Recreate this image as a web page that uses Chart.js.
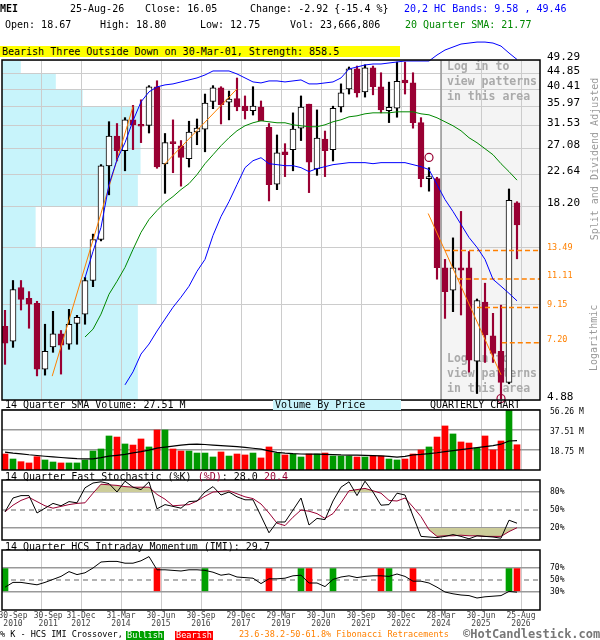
<!DOCTYPE html>
<html>
<head>
<meta charset="utf-8">
<script src="https://cdn.jsdelivr.net/npm/chart.js@4.4.1/dist/chart.umd.min.js"></script>
<style>
body{margin:0;width:600px;height:640px;position:relative;background:#fff;overflow:hidden;font-family:"DejaVu Sans Mono",monospace;font-size:10px;color:#000}
canvas{position:absolute;left:0}
.t{position:absolute;white-space:pre;line-height:12px;height:12px}
.f{font-size:8.5px;line-height:9px;height:9px}
</style>
</head>
<body>
<canvas id="price" width="600" height="410" style="top:0"></canvas>
<canvas id="vol" width="600" height="80" style="top:400px"></canvas>
<canvas id="stoch" width="600" height="80" style="top:470px"></canvas>
<canvas id="imi" width="600" height="100" style="top:540px"></canvas>

<div class="t" style="left:0;top:3px;font-weight:bold">MEI</div>
<div class="t" style="left:70px;top:3px">25-Aug-26</div>
<div class="t" style="left:145px;top:3px">Close: 16.05</div>
<div class="t" style="left:250px;top:3px">Change: -2.92 {-15.4 %}</div>
<div class="t" style="left:404px;top:3px;color:#0000ff">20,2 HC Bands: 9.58 , 49.46</div>
<div class="t" style="left:5px;top:19px">Open: 18.67</div>
<div class="t" style="left:100px;top:19px">High: 18.80</div>
<div class="t" style="left:200px;top:19px">Low: 12.75</div>
<div class="t" style="left:290px;top:19px">Vol: 23,666,806</div>
<div class="t" style="left:405px;top:19px;color:#008800">20 Quarter SMA: 21.77</div>
<div class="t" style="left:0;top:46px;width:398px;height:11px;line-height:11px;background:#ffff00;padding-left:2px">Bearish Three Outside Down on 30-Mar-01, Strength: 858.5</div>

<div class="t" style="left:513px;top:153px;width:163px;text-align:center;color:#999;transform:rotate(-90deg);transform-origin:81.5px 6px">Split and Dividend Adjusted</div>
<div class="t" style="left:561px;top:332px;width:66px;text-align:center;color:#999;transform:rotate(-90deg);transform-origin:33px 6px">Logarithmic</div>

<div class="t" style="left:5px;top:399px">14 Quarter SMA Volume: 27.51 M</div>
<div class="t" style="left:273px;top:400px;width:126px;height:10px;line-height:10px;background:#c8f4fb;padding-left:2px">Volume By Price</div>
<div class="t" style="left:430px;top:399px">QUARTERLY CHART</div>
<div class="t" style="left:5px;top:471px">14 Quarter Fast Stochastic (%K) <span style="color:#990033">(%D)</span>: 28.0 <span style="color:#990033">20.4</span></div>
<div class="t" style="left:5px;top:541px">14 Quarter HCS Intraday Momentum (IMI): 29.7</div>

<div class="t f" style="left:0;top:630px">% K - HCS IMI Crossover,</div>
<div class="t f" style="left:126px;top:631px;width:38px;background:#00a000;color:#fff;text-align:center">Bullish</div>
<div class="t f" style="left:175px;top:631px;width:38px;background:#ff0000;color:#fff;text-align:center">Bearish</div>
<div class="t f" style="left:239px;top:630px;color:#ff8000">23.6-38.2-50-61.8% Fibonacci Retracements</div>
<div class="t" style="left:463px;top:628px;font-size:12px;font-weight:bold;color:#777">©HotCandlestick.com</div>

<script>
// quarterly candles, 30-Sep-2010 .. 25-Aug-2026
const open  = [8.06,7.28,10.49,9.74,9.42,6.02,7.0,7.66,7.13,8.22,8.75,11.0,14.54,24.0,29.4,26.6,32.8,31.8,31.6,41.1,24.3,28.3,27.5,25.2,30.2,30.8,37.2,40.8,37.0,37.9,36.0,34.9,35.8,31.2,21.2,26.4,26.8,31.0,36.5,23.5,28.8,26.8,35.8,40.5,46.4,39.7,46.7,41.1,34.9,35.5,43.0,42.2,32.2,22.0,22.0,12.0,10.3,12.0,12.0,6.35,9.5,7.55,6.8,5.5,18.67];
const high  = [8.98,11.0,11.0,10.2,9.55,8.17,8.92,7.83,9.04,8.68,11.23,15.08,24.2,32.4,32.0,33.3,36.2,37.6,41.4,42.8,29.9,32.8,28.5,32.5,33.0,39.1,41.4,41.1,39.9,43.6,38.6,41.1,37.3,32.0,29.6,27.9,34.4,38.6,36.5,35.1,30.4,36.0,41.9,47.0,47.3,47.7,47.3,45.2,42.4,48.6,48.6,45.2,33.3,23.7,22.2,12.7,14.7,17.6,13.4,9.7,10.8,8.8,9.3,20.5,18.80];
const low   = [6.22,6.98,9.0,7.95,5.75,5.78,6.75,5.82,6.89,7.13,8.17,10.55,14.4,19.7,24.8,23.2,26.8,28.1,30.0,23.6,19.9,22.9,20.9,23.8,27.7,26.4,35.4,31.9,32.8,34.9,33.0,33.9,32.6,18.9,20.4,22.3,23.2,28.5,20.0,22.5,22.3,24.8,34.6,39.1,38.3,38.3,38.9,34.4,32.2,33.4,39.1,31.0,20.8,20.2,11.1,8.5,8.9,8.7,5.9,5.1,6.3,6.3,4.91,5.45,12.75];
const close = [7.18,10.35,9.68,9.36,6.02,6.80,7.66,7.08,8.17,8.56,11.0,14.54,24.0,29.4,26.6,32.8,31.7,31.4,41.1,23.8,28.1,27.9,25.4,30.2,31.0,36.8,40.8,36.4,37.8,35.8,34.9,36.0,32.6,21.1,26.2,25.9,30.8,35.8,24.6,29.0,26.6,35.5,39.4,46.4,39.4,46.7,41.1,35.1,35.7,42.6,42.2,32.2,22.0,22.3,12.0,10.2,12.0,11.8,6.4,9.6,7.6,6.7,5.5,18.97,16.05];

const bbUpper = [null,null,null,null,null,null,null,null,null,null,11.2,13.41,15.78,21.12,25.02,28.08,32.6,37.08,39.68,41.04,41.61,41.89,42.46,43.04,43.63,44.52,45.75,45.75,45.75,44.83,43.63,42.46,42.17,42.75,42.75,42.46,42.75,43.04,41.89,41.89,42.17,42.46,43.63,46.37,47.01,47.65,47.97,47.97,48.30,48.63,48.96,48.96,48.96,48.96,50.99,52.75,53.84,54.94,55.31,55.68,55.68,55.31,54.19,51.69,49.46];
const bbLower = [null,null,null,null,null,null,null,null,null,null,null,null,null,null,null,5.41,5.91,6.67,7.14,7.80,8.46,9.17,9.82,10.58,11.71,12.70,14.95,17.00,18.82,21.12,23.70,24.85,25.36,24.35,24.19,24.02,24.02,23.70,23.07,23.55,23.86,24.19,24.35,24.52,24.52,24.52,24.35,24.52,24.52,24.52,24.52,24.19,23.86,23.39,21.12,19.08,17.59,16.11,14.74,13.78,12.70,11.09,10.58,10.08,9.58];
const sma20 = [null,null,null,null,null,null,null,null,null,null,7.49,7.90,8.75,10.02,10.94,12.03,13.59,15.26,16.66,17.71,18.70,19.47,20.42,21.26,22.60,24.35,25.88,27.51,29.05,30.46,31.51,32.16,32.60,32.38,32.16,32.16,31.72,31.51,31.30,31.30,31.72,32.38,32.82,33.49,33.72,34.18,34.41,34.41,34.41,34.65,34.65,34.65,34.18,33.95,33.27,32.38,31.51,30.46,29.05,28.08,26.96,25.88,24.35,23.07,21.77];

// volume in millions
const volume = [15.0,10.3,7.8,6.6,12.5,9.4,7.5,6.6,6.6,6.6,9.4,17.8,19.7,31.9,30.9,24.4,23.4,29.1,21.6,37.5,37.5,19.7,17.8,17.8,15.9,15.9,12.2,16.9,13.1,15.0,14.1,15.9,11.3,21.6,15.9,14.1,15.0,12.2,15.0,15.0,15.9,13.1,13.1,13.1,12.2,12.2,13.1,13.1,10.3,9.4,10.3,15.0,18.8,21.6,30.9,41.3,33.8,26.3,25.3,20.6,31.9,18.8,27.2,58.0,23.67];
const volSma14 = [16.8,15.8,15.2,14.3,13.6,12.9,12.3,11.7,11.2,10.7,10.4,10.5,11.6,13.0,13.8,14.7,16.0,17.2,18.6,20.5,21.5,22.4,23.4,24.0,24.3,23.9,23.4,22.9,22.4,21.9,21.2,20.4,19.5,18.0,16.5,15.8,15.3,15.0,14.9,14.8,14.6,14.4,14.1,14.0,13.9,13.8,13.5,13.2,12.7,12.0,12.8,14.1,14.6,15.3,16.2,17.3,18.2,19.1,20.0,21.0,22.0,22.9,24.2,27.2,27.51];

const stochK = [47,70,74,74,45,53,61,57,64,62,87,95,97,94,80,98,88,84,97,52,59,56,53,64,65,80,89,75,80,72,67,67,40,12,30,30,50,70,25,36,34,65,88,97,74,98,80,58,59,78,75,40,6,5,4,6,9,6,2,7,6,5,3,33,28.0];
const stochD = [47,58,66,71,64,57,53,56,59,61,62,78,93,92,91,89,88,88,88,76,68,57,58,59,65,73,80,81,82,77,72,69,60,45,28,24,38,50,48,44,36,44,62,82,84,86,82,78,66,65,70,55,39,17,6,7,7,8,7,7,6,6,6,14,20.4];
const imi = [38,46,46,44,42,46,51,56,64,59,62,70,80,81,81,78,78,82,89,67,67,66,65,67,67,66,63,58,60,55,54,53,44,52,52,53,57,58,45,45,39,51,55,57,54,56,57,57,56,60,56,48,48,45,38,30,27,25,24,20,22,23,24,31,29.7];
const bullishAt = [0, 25, 37, 41, 48, 63];
const bearishAt = [19, 33, 38, 47, 51, 64];

// price axis ticks, volume-by-price bins between them
const priceTicks = [49.29, 44.85, 40.41, 35.97, 31.53, 27.08, 22.64, 18.20, 13.76, 9.32, 4.88];
const hiddenTicks = [13.76, 9.32];
const vbpVol = [14, 40, 60, 103, 103, 103, 101, 25, 115, 101];
const VBP_FULL = 400; // volume-by-price amount spanning the whole panel width

// fibonacci
const fibLevels = [13.49, 11.11, 9.15, 7.20];
const fibLevelFrom = [55.0, 56.6, 59.0, 62.1];
const fibTrendFrom = [[5.9, 5.74], [19.9, 24.2], [52.9, 17.35]];
const fibTrendTo = [[16.0, 35.9], [29.0, 40.5], [62.0, 5.79]];
const signalAt = [53, 62];
const signalPrice = [25.4, 4.93];

const dateLabels = ["30-Sep","30-Sep","31-Dec","31-Mar","30-Jun","30-Sep","29-Dec","29-Mar","30-Jun","30-Sep","30-Dec","28-Mar","30-Jun","25-Aug"];
const yearLabels = ["2010","2011","2012","2014","2015","2016","2017","2019","2020","2021","2022","2024","2025","2026"];
const labelAt = [1, 5.4, 9.5, 14.5, 19.5, 24.5, 29.5, 34.5, 39.5, 44.5, 49.5, 54.5, 59.5, 64.5];
const gridAt = [4.5, 9.5, 14.5, 19.5, 24.5, 29.5, 34.5, 39.5, 44.5, 49.5, 54.5, 59.5, 64.5];

const X_MIN = -0.375, X_MAX = 66.875;
const MONO = '"DejaVu Sans Mono", monospace';
const MAROON = '#990033', ORANGE = '#ff8000', KHAKI = '#cccc99', CLEAR = 'rgba(0,0,0,0)';

const idx = close.map((c, i) => i);
const pts = arr => arr.map((v, i) => ({x: i, y: v})).filter(p => p.y !== null);
const up = idx.map(i => close[i] > open[i]);

const deco = {
  id: 'deco',
  beforeDraw(chart, args, o) {
    const {ctx, chartArea: a, scales} = chart;
    ctx.save();
    if (o.vbp) {
      ctx.fillStyle = '#c8f4fb';
      vbpVol.forEach((v, k) => {
        const y0 = scales.y.getPixelForValue(priceTicks[k]);
        const y1 = scales.y.getPixelForValue(priceTicks[k + 1]);
        ctx.fillRect(a.left, y0, v / VBP_FULL * a.width, y1 - y0);
      });
    }
    if (o.loginFrom != null) {
      const x0 = scales.x.getPixelForValue(o.loginFrom);
      ctx.fillStyle = '#f4f4f4';
      ctx.fillRect(x0, a.top, a.right - x0, a.height);
    }
    ctx.restore();
  },
  beforeDatasetsDraw(chart, args, o) {
    const {ctx, chartArea: a, scales} = chart;
    ctx.save();
    if (o.loginFrom != null) {
      const x0 = scales.x.getPixelForValue(o.loginFrom);
      ctx.strokeStyle = '#999';
      ctx.lineWidth = 1.5;
      ctx.beginPath(); ctx.moveTo(x0, a.top); ctx.lineTo(x0, a.bottom); ctx.stroke();
      ctx.fillStyle = '#aaaaaa';
      ctx.font = 'bold 11.5px ' + MONO;
      ctx.textBaseline = 'middle';
      const lines = ['Log in to', 'view patterns', 'in this area'];
      lines.forEach((s, k) => {
        ctx.fillText(s, x0 + 6, a.top + 7 + 15 * k);
        ctx.fillText(s, x0 + 6, a.bottom - 41 + 15 * k);
      });
    }
    (o.dashed || []).forEach(v => {
      const y = scales.y.getPixelForValue(v);
      ctx.strokeStyle = '#999';
      ctx.lineWidth = 1.5;
      ctx.setLineDash([5, 4]);
      ctx.beginPath(); ctx.moveTo(a.left, y); ctx.lineTo(a.right, y); ctx.stroke();
    });
    ctx.restore();
  },
  afterDraw(chart) {
    const {ctx, chartArea: a} = chart;
    ctx.save();
    ctx.strokeStyle = '#000';
    ctx.lineWidth = 1.5;
    ctx.strokeRect(a.left, a.top, a.width, a.height);
    ctx.restore();
  }
};

function xGridAxis() {
  return {
    type: 'linear', min: X_MIN, max: X_MAX, offset: false,
    afterBuildTicks: s => { s.ticks = gridAt.map(v => ({value: v})); },
    afterFit: s => { s.height = 0; s.paddingLeft = 0; s.paddingRight = 0; },
    ticks: {display: false},
    grid: {color: '#cccccc', lineWidth: 1, drawTicks: false, offset: false},
    border: {display: false}
  };
}

function rightAxis(at, fmt, size, offset, extra) {
  return Object.assign({
    position: 'right',
    afterBuildTicks: s => { s.ticks = at.map(v => ({value: v})); },
    afterFit: s => { s.width = 60; s.paddingTop = 0; s.paddingBottom = 0; },
    ticks: {autoSkip: false, padding: 10, labelOffset: offset, color: '#000', font: {family: MONO, size: size}, callback: fmt},
    grid: {color: ctx => ctx.tick && ctx.tick.value === 50 ? CLEAR : '#999', lineWidth: 1.5, drawTicks: false},
    border: {display: false}
  }, extra);
}

const baseOpts = (padding, plugins, scales) => ({
  responsive: false, animation: false, events: [],
  layout: {autoPadding: false, padding: padding},
  plugins: Object.assign({legend: {display: false}, tooltip: {enabled: false}}, plugins),
  scales: scales
});

const lineDs = (data, color, extra) => Object.assign({
  type: 'line', data: data, borderColor: color, borderWidth: 1, pointRadius: 0,
  fill: false, tension: 0, xAxisID: 'x', yAxisID: 'y', order: 1
}, extra || {});

// price panel
new Chart(document.getElementById('price'), {
  type: 'bar',
  data: {
    datasets: [
      {type: 'line', data: signalAt.map((i, k) => ({x: i, y: signalPrice[k]})), showLine: false,
        pointRadius: 4, pointStyle: 'circle', pointBackgroundColor: CLEAR, pointBorderColor: MAROON,
        pointBorderWidth: 1.2, clip: false, xAxisID: 'x', yAxisID: 'y', order: 0},
      lineDs(pts(bbUpper), '#0000ff', {clip: {left: 0, top: false, right: 0, bottom: 0}}),
      lineDs(pts(bbLower), '#0000ff'),
      lineDs(pts(sma20), '#008800'),
      ...fibTrendFrom.map((f, k) => lineDs([{x: f[0], y: f[1]}, {x: fibTrendTo[k][0], y: fibTrendTo[k][1]}], ORANGE)),
      ...fibLevels.map((lv, k) => lineDs([{x: fibLevelFrom[k], y: lv}, {x: X_MAX, y: lv}], ORANGE, {borderDash: [5, 3], borderWidth: 1.5})),
      {type: 'bar', data: idx.map(i => ({x: i, y: [Math.min(open[i], close[i]), Math.max(open[i], close[i])]})),
        backgroundColor: idx.map(i => up[i] ? '#fff' : MAROON), borderColor: idx.map(i => up[i] ? '#000' : MAROON),
        borderWidth: 1, borderSkipped: false, barThickness: 6, grouped: false, xAxisID: 'x', yAxisID: 'y', order: 2},
      {type: 'bar', data: idx.map(i => ({x: i, y: [low[i], high[i]]})),
        backgroundColor: idx.map(i => up[i] ? '#000' : MAROON), barThickness: 1.5, grouped: false,
        xAxisID: 'x', yAxisID: 'y', order: 3}
    ]
  },
  options: baseOpts({top: 60, left: 2, right: 0, bottom: 10}, {deco: {vbp: true, loginFrom: 54.5}}, {
    x: xGridAxis(),
    y: {
      type: 'logarithmic', position: 'right', min: 4.88, max: 49.29,
      afterBuildTicks: s => { s.ticks = priceTicks.concat(fibLevels).sort((p, q) => p - q).map(v => ({value: v})); },
      afterFit: s => { s.width = 60; s.paddingTop = 0; s.paddingBottom = 0; },
      ticks: {
        autoSkip: false, padding: 7, labelOffset: -3,
        callback: v => hiddenTicks.includes(v) ? '' : v.toFixed(2),
        color: ctx => fibLevels.includes(ctx.tick.value) ? ORANGE : '#000',
        font: ctx => fibLevels.includes(ctx.tick.value) ? {family: MONO, size: 8.5} : {family: MONO, size: 11}
      },
      grid: {color: ctx => ctx.tick && fibLevels.includes(ctx.tick.value) ? CLEAR : '#cccccc', lineWidth: 1, drawTicks: false},
      border: {display: false}
    }
  }),
  plugins: [deco]
});

// volume panel
new Chart(document.getElementById('vol'), {
  type: 'bar',
  data: {
    datasets: [
      lineDs(pts(volSma14), '#000', {borderWidth: 1.2, order: 0}),
      {type: 'bar', data: idx.map(i => ({x: i, y: volume[i]})),
        backgroundColor: idx.map(i => i > 0 && close[i] >= close[i - 1] ? '#009900' : '#ff0000'),
        barThickness: 6, grouped: false, xAxisID: 'x', yAxisID: 'y', order: 1}
    ]
  },
  options: baseOpts({top: 10, left: 2, right: 0, bottom: 10}, {deco: {}}, {
    x: xGridAxis(),
    y: rightAxis([18.75, 37.51, 56.26], v => v.toFixed(2) + ' M', 8, 2, {type: 'linear', min: 0, max: 56.26})
  }),
  plugins: [deco]
});

// stochastic panel
new Chart(document.getElementById('stoch'), {
  type: 'line',
  data: {
    datasets: [
      lineDs(pts(stochK), '#000', {order: 1}),
      lineDs(pts(stochD), MAROON, {order: 2, fill: {target: {value: 80}, above: KHAKI, below: CLEAR}}),
      lineDs(pts(stochD), CLEAR, {order: 3, borderWidth: 0, fill: {target: {value: 20}, above: CLEAR, below: KHAKI}})
    ]
  },
  options: baseOpts({top: 10, left: 2, right: 0, bottom: 10}, {deco: {dashed: [50]}}, {
    x: xGridAxis(),
    y: rightAxis([20, 50, 80], v => v + '%', 8, 0, {type: 'linear', min: 0, max: 100})
  }),
  plugins: [deco]
});

// IMI panel
new Chart(document.getElementById('imi'), {
  type: 'bar',
  data: {
    datasets: [
      lineDs(pts(imi), '#000', {order: 0}),
      {type: 'bar', data: bullishAt.map(i => ({x: i, y: [32, 69]})), backgroundColor: '#00a000',
        barThickness: 6, grouped: false, xAxisID: 'x', yAxisID: 'y', order: 1},
      {type: 'bar', data: bearishAt.map(i => ({x: i, y: [32, 69]})), backgroundColor: '#ff0000',
        barThickness: 6, grouped: false, xAxisID: 'x', yAxisID: 'y', order: 1}
    ]
  },
  options: baseOpts({top: 10, left: 2, right: 0, bottom: 0}, {deco: {dashed: [50]}}, {
    x: xGridAxis(),
    xl: {
      type: 'linear', position: 'bottom', min: X_MIN, max: X_MAX, offset: false,
      afterBuildTicks: s => { s.ticks = labelAt.map(v => ({value: v})); },
      afterFit: s => { s.height = 30; s.paddingLeft = 0; s.paddingRight = 0; },
      ticks: {autoSkip: false, maxRotation: 0, minRotation: 0, padding: 2, color: '#444',
        font: {family: MONO, size: 8, lineHeight: 1}, callback: (v, i) => [dateLabels[i], yearLabels[i]]},
      grid: {display: false, drawTicks: false},
      border: {display: false}
    },
    y: rightAxis([30, 50, 70], v => v + '%', 8, 0, {type: 'linear', min: 0, max: 100})
  }),
  plugins: [deco]
});
</script>
</body>
</html>
